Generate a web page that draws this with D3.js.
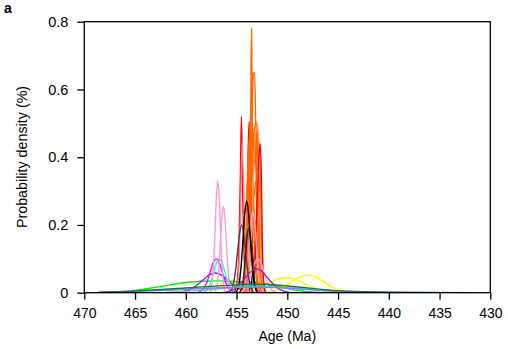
<!DOCTYPE html>
<html>
<head>
<meta charset="utf-8">
<script src="https://cdn.jsdelivr.net/npm/d3@7/dist/d3.min.js"></script>
<style>
  html, body { margin: 0; padding: 0; background: #fff; }
  svg { display: block; font-family: "Liberation Sans", Arial, Helvetica, sans-serif; }
</style>
</head>
<body>
<svg id="chart" width="508" height="349"></svg>
<script>
// Axis ticks
const xTicks = [470, 465, 460, 455, 450, 445, 440, 435, 430];
const yTicks = [0, 0.2, 0.4, 0.6, 0.8];
const yTickLabels = ["0", "0.2", "0.4", "0.6", "0.8"];

// Probability density curves: [age (Ma), density (%)], listed from oldest to youngest
const yellowB = [[452.8,0],[451.2,0.007],[450.4,0.017],[449.6,0.032],[448.8,0.046],[448.0,0.052],[447.2,0.046],[446.4,0.032],[445.6,0.017],[444.8,0.007],[443.2,0]];
const yellowA = [[455.5,0],[453.7,0.006],[452.8,0.015],[451.9,0.027],[451.0,0.04],[450.1,0.045],[449.2,0.04],[448.3,0.027],[447.4,0.015],[446.5,0.006],[444.7,0]];
const yellowC = [[458.2,0],[457.4,0.005],[457.0,0.011],[456.6,0.021],[456.2,0.031],[455.8,0.035],[455.4,0.031],[455.0,0.021],[454.6,0.011],[454.2,0.005],[453.4,0]];
const greenA = [[465.5,0.004],[464,0.011],[462,0.021],[460,0.03],[458.5,0.034],[457,0.035],[455.5,0.034],[454,0.032],[452.5,0.028],[451,0.019],[449.5,0.009],[448,0.003],[446.5,0]];
const purpleA = [[461.0,0],[459.7,0.008],[459.05,0.019],[458.4,0.035],[457.75,0.051],[457.1,0.058],[456.45,0.051],[455.8,0.035],[455.15,0.019],[454.5,0.008],[453.2,0]];
const magentaA = [[458.8,0],[458.2,0.0135],[457.9,0.0325],[457.6,0.0607],[457.3,0.0882],[457.0,0.10],[456.7,0.0882],[456.4,0.0607],[456.1,0.0325],[455.8,0.0135],[455.2,0]];
const cyanA = [[458.35,0],[457.8,0.0135],[457.525,0.0325],[457.25,0.0607],[456.975,0.0882],[456.7,0.1],[456.425,0.0882],[456.15,0.0607],[455.875,0.0325],[455.6,0.0135],[455.05,0]];
const pinkA = [[457.6,0],[457.35,0.045],[457.225,0.107],[457.1,0.2],[456.975,0.291],[456.85,0.33],[456.725,0.291],[456.6,0.2],[456.475,0.107],[456.35,0.045],[456.1,0]];
const pinkB = [[457.14,0],[456.86,0.034],[456.72,0.083],[456.58,0.155],[456.44,0.225],[456.3,0.255],[456.16,0.225],[456.02,0.155],[455.88,0.083],[455.74,0.034],[455.46,0]];
const blueA = [[453.9,0],[453.6,0.02],[453.45,0.049],[453.3,0.091],[453.15,0.132],[453.0,0.15],[452.85,0.132],[452.7,0.091],[452.55,0.049],[452.4,0.02],[452.1,0]];
const orangeA = [[454.3,0],[454.0,0.06],[453.75,0.3],[453.6,0.55],[453.52,0.78],[453.44,0.5],[453.3,0.2],[453.05,0.04],[452.8,0]];
const orangeB = [[454.2,0],[453.9,0.08],[453.6,0.35],[453.42,0.6],[453.35,0.645],[453.22,0.65],[453.12,0.5],[453.0,0.2],[452.75,0.04],[452.5,0]];
const orangeC = [[454.1,0],[453.8,0.1],[453.5,0.35],[453.25,0.48],[453.05,0.505],[452.9,0.42],[452.75,0.2],[452.55,0.04],[452.3,0]];
const orangeD = [[454.3,0],[454.0,0.15],[453.8,0.4],[453.65,0.5],[453.5,0.45],[453.3,0.25],[453.0,0.06],[452.7,0]];
const orangeE = [[454.0,0],[453.7,0.2],[453.45,0.42],[453.3,0.47],[453.1,0.4],[452.9,0.2],[452.7,0.05],[452.5,0]];
const orangeF = [[454.2,0],[453.95,0.1],[453.7,0.3],[453.45,0.44],[453.2,0.4],[452.95,0.48],[452.8,0.35],[452.6,0.1],[452.4,0]];
const orangeG = [[454.3,0],[454.1,0.1],[453.95,0.32],[453.8,0.44],[453.6,0.46],[453.4,0.43],[453.25,0.46],[453.1,0.44],[452.95,0.46],[452.8,0.44],[452.68,0.3],[452.55,0.1],[452.35,0]];
const orangeH = [[454.2,0],[454.0,0.2],[453.85,0.38],[453.7,0.42],[453.5,0.47],[453.3,0.42],[453.15,0.45],[453.0,0.4],[452.85,0.45],[452.72,0.42],[452.6,0.2],[452.45,0]];
const orangeI = [[454.1,0],[453.95,0.15],[453.8,0.33],[453.6,0.38],[453.4,0.35],[453.2,0.4],[453.0,0.36],[452.8,0.38],[452.66,0.25],[452.5,0]];
const orangeJ = [[454.05,0],[453.9,0.1],[453.75,0.25],[453.5,0.3],[453.3,0.28],[453.1,0.33],[452.9,0.3],[452.72,0.2],[452.55,0]];
const orangeK = [[454.0,0],[453.85,0.1],[453.7,0.2],[453.4,0.22],[453.2,0.2],[453.0,0.22],[452.8,0.18],[452.65,0.08],[452.5,0]];
const orangeL = [[454.0,0],[453.7,0.08],[453.5,0.14],[453.3,0.15],[453.1,0.13],[452.9,0.12],[452.7,0.06],[452.5,0]];
const peachA = [[453.9,0],[453.5,0.2],[453.2,0.45],[453.0,0.5],[452.85,0.47],[452.72,0.3],[452.58,0.1],[452.3,0]];
const redA = [[455.2,0],[454.9,0.04],[454.75,0.15],[454.62,0.35],[454.52,0.52],[454.42,0.35],[454.3,0.15],[454.1,0.04],[453.8,0]];
const redB = [[454.5,0],[454.2,0.05],[454.0,0.2],[453.85,0.42],[453.76,0.505],[453.65,0.4],[453.5,0.2],[453.3,0.05],[453.0,0]];
const redC = [[453.5,0],[453.2,0.08],[453.0,0.25],[452.8,0.4],[452.66,0.44],[452.55,0.33],[452.46,0.15],[452.35,0.04],[452.15,0]];
const salmonA = [[455.0,0],[454.8,0.06],[454.6,0.25],[454.45,0.45],[454.3,0.3],[454.1,0.1],[453.8,0]];
const pinkC = [[454.45,0],[454.1,0.032],[453.925,0.078],[453.75,0.146],[453.575,0.212],[453.4,0.24],[453.225,0.212],[453.05,0.146],[452.875,0.078],[452.7,0.032],[452.35,0]];
const pinkD = [[454.8,0],[454.1,0.014],[453.8,0.033],[453.5,0.061],[453.2,0.088],[452.9,0.1],[452.6,0.088],[452.3,0.061],[452.0,0.033],[451.7,0.014],[451.1,0]];
const plumA = [[455.7,0],[455.3,0.027],[455.1,0.065],[454.9,0.121],[454.7,0.176],[454.5,0.2],[454.3,0.176],[454.1,0.121],[453.9,0.065],[453.7,0.027],[453.3,0]];
const blackA = [[455.05,0],[454.7,0.036],[454.525,0.088],[454.35,0.164],[454.175,0.238],[454.0,0.27],[453.825,0.238],[453.65,0.164],[453.475,0.088],[453.3,0.036],[452.95,0]];
const blackB = [[454.7,0],[454.4,0.027],[454.25,0.065],[454.1,0.12],[453.95,0.17],[453.8,0.19],[453.65,0.17],[453.5,0.12],[453.35,0.065],[453.2,0.027],[452.9,0]];
const purpleB = [[456.4,0],[455.3,0.009],[454.75,0.023],[454.2,0.042],[453.6,0.062],[453.0,0.07],[452.45,0.062],[451.9,0.042],[451.3,0.023],[450.7,0.009],[449.6,0]];
const greyA = [[462.0,0.001],[459,0.006],[456,0.014],[453.5,0.019],[451,0.016],[448,0.009],[445,0.003],[442,0]];
const cornflowerA = [[468.6,0.002],[465,0.004],[462,0.007],[458,0.013],[455,0.016],[453,0.017],[450,0.014],[446,0.006],[442,0.002],[438.5,0.0005],[432.4,0]];
const darkGreenA = [[468.6,0.001],[465,0.005],[462,0.01],[458,0.018],[455,0.023],[453.5,0.025],[452,0.024],[449,0.017],[445.5,0.007],[441,0.002],[436,0.0005],[432.4,0]];

// Drawing order: first listed sits at the back
const curves = [
  { data: yellowB, color: "#ffff00" },
  { data: yellowA, color: "#ffff00" },
  { data: yellowC, color: "#ffff00" },
  { data: greenA, color: "#00ee00" },
  { data: purpleA, color: "#9a22c8" },
  { data: magentaA, color: "#ff00ff" },
  { data: cyanA, color: "#00ffff" },
  { data: pinkA, color: "#ff9ccc" },
  { data: pinkB, color: "#ff9ccc" },
  { data: blueA, color: "#0000ff" },
  { data: redA, color: "#ff0000" },
  { data: salmonA, color: "#ff7a7a" },
  { data: redB, color: "#ff0000" },
  { data: orangeL, color: "#ff6600" },
  { data: orangeK, color: "#ff6600" },
  { data: orangeJ, color: "#ff6600" },
  { data: orangeI, color: "#ff6600" },
  { data: orangeH, color: "#ff6600" },
  { data: orangeG, color: "#ff6600" },
  { data: orangeD, color: "#ff6600" },
  { data: orangeE, color: "#ff6600" },
  { data: orangeF, color: "#ff6600" },
  { data: orangeC, color: "#ff6600" },
  { data: orangeB, color: "#ff6600" },
  { data: orangeA, color: "#ff6600" },
  { data: peachA, color: "#ffa060" },
  { data: redC, color: "#ff0000" },
  { data: pinkC, color: "#ff9ccc" },
  { data: pinkD, color: "#ff9ccc" },
  { data: plumA, color: "#5a3a50" },
  { data: blackB, color: "#222222" },
  { data: blackA, color: "#000000" },
  { data: purpleB, color: "#9a22c8" },
  { data: greyA, color: "#9aa4a4" },
  { data: cornflowerA, color: "#6a8fe8" },
  { data: darkGreenA, color: "#226e55" }
];

const svg = d3.select("#chart");
const plotLeft = 84.3, plotRight = 490.3, plotTop = 21.7, plotBottom = 292.7;

const x = d3.scaleLinear().domain([470, 430]).range([plotLeft, plotRight]);
const y = d3.scaleLinear().domain([0, 0.8]).range([plotBottom, plotTop]);

svg.append("defs").append("clipPath").attr("id", "plot-clip")
  .append("rect").attr("x", plotLeft).attr("y", plotTop - 1)
  .attr("width", plotRight - plotLeft).attr("height", plotBottom - plotTop + 1);

const line = d3.line()
  .x(d => x(d[0]))
  .y(d => y(d[1]))
  .curve(d3.curveMonotoneX);

svg.append("g").attr("clip-path", "url(#plot-clip)")
  .selectAll("path")
  .data(curves)
  .join("path")
  .attr("d", c => line(c.data))
  .attr("fill", "none")
  .attr("stroke", c => c.color)
  .attr("stroke-width", 1.4)
  .attr("stroke-linejoin", "round");

// Frame
svg.append("rect")
  .attr("x", plotLeft).attr("y", plotTop)
  .attr("width", plotRight - plotLeft).attr("height", plotBottom - plotTop)
  .attr("fill", "none").attr("stroke", "#000").attr("stroke-width", 1.3);

// X axis
const xAxis = svg.append("g")
  .attr("transform", `translate(0,${plotBottom})`)
  .call(d3.axisBottom(x).tickValues(xTicks).tickFormat(d3.format("d")).tickSize(7).tickPadding(8.5));
xAxis.select(".domain").remove();
xAxis.selectAll(".tick line").attr("stroke", "#000").attr("stroke-width", 1.3);
xAxis.selectAll("text").attr("font-size", 14).attr("fill", "#000")
  .attr("font-family", "Liberation Sans, Arial, sans-serif");

// Y axis
const yAxis = svg.append("g")
  .attr("transform", `translate(${plotLeft},0)`)
  .call(d3.axisLeft(y).tickValues(yTicks).tickFormat((d, i) => yTickLabels[i]).tickSize(7).tickPadding(9));
yAxis.select(".domain").remove();
yAxis.selectAll(".tick line").attr("stroke", "#000").attr("stroke-width", 1.3);
yAxis.selectAll("text").attr("font-size", 14.5).attr("fill", "#000")
  .attr("font-family", "Liberation Sans, Arial, sans-serif");

// Titles
svg.append("text")
  .attr("x", (plotLeft + plotRight) / 2).attr("y", 341)
  .attr("text-anchor", "middle").attr("font-size", 14)
  .text("Age (Ma)");

svg.append("text")
  .attr("transform", `translate(27,157) rotate(-90)`)
  .attr("text-anchor", "middle").attr("font-size", 14.3)
  .text("Probability density (%)");

svg.append("text")
  .attr("x", 4).attr("y", 13)
  .attr("font-size", 14).attr("font-weight", "bold")
  .text("a");
</script>
</body>
</html>
